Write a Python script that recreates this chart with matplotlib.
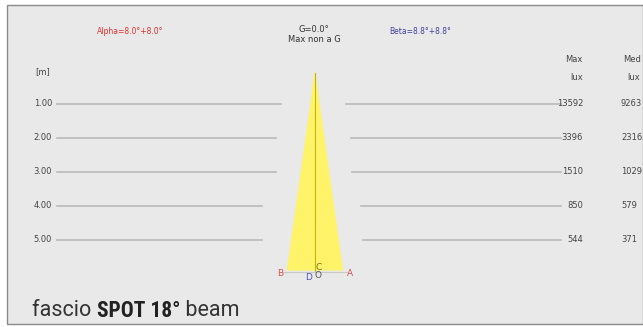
import matplotlib.pyplot as plt
import numpy as np
from matplotlib.patches import Polygon, Rectangle

# distances [m] and illuminance values
distances = [1.00, 2.00, 3.00, 4.00, 5.00]
max_lux = [13592, 3396, 1510, 850, 544]
med_lux = [9263, 2316, 1029, 579, 371]

alpha = 8.0   # deg, half angle
beta = 8.8
beam_len = 5.9

# left / right end of the guide lines (in m from beam axis)
left_start = [-7.6, -7.6, -7.6, -7.6, -7.6]
left_end = [-1.0, -1.15, -1.15, -1.55, -1.55]
right_start = [0.9, 1.05, 1.1, 1.35, 1.4]
right_end = [7.25, 7.25, 7.25, 7.25, 7.25]

W, H = 643, 327
fig = plt.figure(figsize=(W / 100, H / 100), dpi=100)
fig.patch.set_facecolor('white')
ax = fig.add_axes([0, 0, 1, 1])
px = 34.0  # pixels per metre
x0, y0 = 315, 70
ax.set_xlim(-x0 / px, (W - x0) / px)
ax.set_ylim((H - y0) / px, -y0 / px)
ax.axis('off')

def pxx(p):
    return (p - x0) / px

def pxy(p):
    return (p - y0) / px

# panel
ax.add_patch(Rectangle((pxx(7), pxy(5)), (W - 7) / px, (H - 8) / px,
                       facecolor='#e9e9e9', edgecolor='#8a8a8a', lw=1.0, zorder=0))

# guide lines + labels
for i, d in enumerate(distances):
    ax.plot([left_start[i], left_end[i]], [d, d], color='#bababa', lw=1.2, zorder=1)
    ax.plot([right_start[i], right_end[i]], [d, d], color='#bababa', lw=1.2, zorder=1)
    ax.text(pxx(52), d, f'{d:.2f}', ha='right', va='center', fontsize=6, color='#444444')
    ax.text(pxx(583), d, str(max_lux[i]), ha='right', va='center', fontsize=6, color='#444444')
    ax.text(pxx(621), d, str(med_lux[i]), ha='left', va='center', fontsize=6, color='#444444')

ax.text(pxx(35), pxy(72), '[m]', ha='left', va='center', fontsize=6, color='#444444')
ax.text(pxx(583), pxy(60), 'Max', ha='right', va='center', fontsize=6, color='#444444')
ax.text(pxx(583), pxy(77), 'lux', ha='right', va='center', fontsize=6, color='#444444')
ax.text(pxx(623), pxy(60), 'Med', ha='left', va='center', fontsize=6, color='#444444')
ax.text(pxx(627), pxy(77), 'lux', ha='left', va='center', fontsize=6, color='#444444')

# beam
hw_l = beam_len * np.tan(np.radians(alpha))
hw_r = beam_len * np.tan(np.radians(alpha))
ax.add_patch(Polygon([(0, 0), (-hw_l, beam_len), (hw_r, beam_len)],
                     closed=True, facecolor='#fff36a', edgecolor='none', zorder=2))
ax.plot([0, 0], [0.1, beam_len], color='#c8b400', lw=0.8, zorder=3)
ax.plot([-hw_l - 0.1, hw_r + 0.1], [beam_len + 0.05, beam_len + 0.05], color='#c8c8c8', lw=0.8, zorder=1)

ax.text(-hw_l - 0.2, beam_len + 0.1, 'B', color='#e05050', fontsize=6.5, ha='center', va='center')
ax.text(hw_r + 0.2, beam_len + 0.1, 'A', color='#e05050', fontsize=6.5, ha='center', va='center')
ax.text(-0.2, beam_len + 0.2, 'D', color='#5050c0', fontsize=6.5, ha='center', va='center')
ax.text(0.1, beam_len + 0.15, 'O', color='#555555', fontsize=6.5, ha='center', va='center')
ax.text(0.1, beam_len - 0.1, 'C', color='#7a6a20', fontsize=6.5, ha='center', va='center')

# header
ax.text(pxx(130), pxy(32), f'Alpha={alpha:.1f}°+{alpha:.1f}°', color='#e03030',
        fontsize=5.5, ha='center', va='center')
ax.text(pxx(420), pxy(32), f'Beta={beta:.1f}°+{beta:.1f}°', color='#4040a0',
        fontsize=5.5, ha='center', va='center')
ax.text(pxx(314), pxy(30), 'G=0.0°', color='#333333', fontsize=6, ha='center', va='center')
ax.text(pxx(314), pxy(40), 'Max non a G', color='#333333', fontsize=6, ha='center', va='center')

# caption
t1 = ax.text(pxx(32), pxy(311), 'fascio ', fontsize=15.5, color='#333333',
             ha='left', va='center', family='Roboto')
fig.canvas.draw()
bb = t1.get_window_extent()
inv = ax.transData.inverted()
xa = inv.transform((bb.x1, 0))[0]
t2 = ax.text(xa, pxy(311), 'SPOT 18°', fontsize=15.5, color='#222222', weight='bold',
             ha='left', va='center', family='Roboto Condensed')
fig.canvas.draw()
bb = t2.get_window_extent()
xb = inv.transform((bb.x1, 0))[0]
ax.text(xb, pxy(311), ' beam', fontsize=15.5, color='#333333',
        ha='left', va='center', family='Roboto')

fig.savefig('out.png', dpi=100, facecolor='white')
